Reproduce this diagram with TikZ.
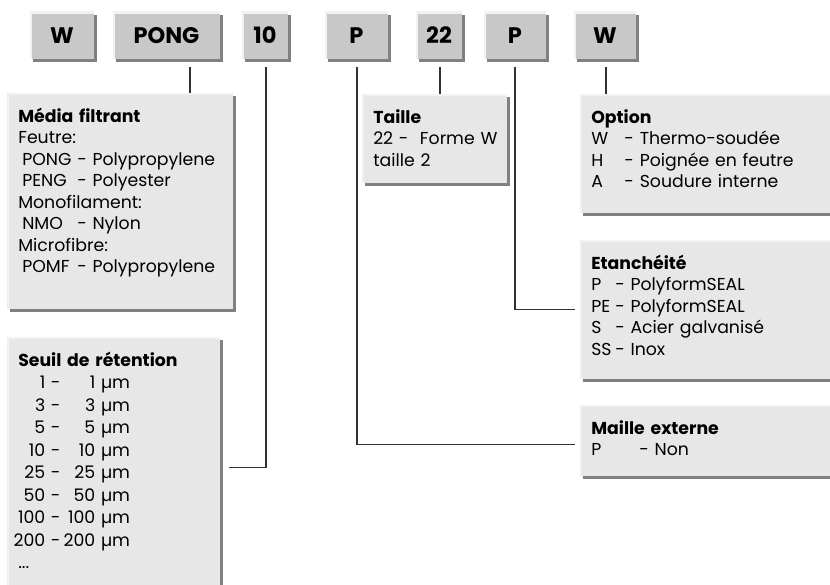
\documentclass[tikz,border=0pt]{standalone}
\usepackage{fontspec}
\setmainfont{Poppins}
\usetikzlibrary{positioning, calc, shadows}

\definecolor{keygray}{RGB}{200,200,200}
\definecolor{panelgray}{RGB}{231,231,231}
\definecolor{edgegray}{RGB}{128,128,128}
\definecolor{hilite}{RGB}{242,242,242}
\definecolor{wiregray}{RGB}{50,50,50}

\newcommand{\coderow}[3]{\makebox[#1][l]{#2}- #3}
\newcommand{\seuilrow}[2]{\makebox[0.675cm][r]{#1}\makebox[0.45cm][c]{\,-}\makebox[0.8cm][r]{#2}~µm}

\tikzset{
  boxshadow/.style={drop shadow={shadow xshift=0.075cm, shadow yshift=-0.075cm, fill=edgegray, opacity=1}},
  keybox/.style={boxshadow, fill=keygray, minimum height=1.175cm, inner sep=0pt,
    font=\fontsize{16}{19}\selectfont\bfseries,
    path picture={\draw[hilite, line width=0.1cm] (path picture bounding box.south west) |- (path picture bounding box.north east);}},
  infobox/.style={boxshadow, anchor=north west, fill=panelgray, align=left, inner xsep=0.275cm, inner ysep=0pt,
    text height=0.72cm, font=\fontsize{12.3}{15.3}\selectfont,
    path picture={\draw[hilite, line width=0.08cm] (path picture bounding box.south west) |- (path picture bounding box.north east);}},
  link/.style={draw=wiregray, line width=0.75pt}
}

\begin{document}
\begin{tikzpicture}[x=0.025cm, y=-0.025cm]
  \useasboundingbox (0,0) rectangle (830,585);

  % Code letters
  \node[keybox, minimum width=1.6cm] (w1) at (62,35.5) {W};
  \node[keybox, minimum width=2.675cm] (pong) at (166.5,35.5) {PONG};
  \node[keybox, minimum width=1.15cm] (ten) at (265,35.5) {10};
  \node[keybox, minimum width=1.575cm] (p1) at (356.5,35.5) {P};
  \node[keybox, minimum width=1.15cm] (tt) at (439,35.5) {22};
  \node[keybox, minimum width=1.55cm] (p2) at (515,35.5) {P};
  \node[keybox, minimum width=1.55cm] (w2) at (605,35.5) {W};

  % Description boxes
  \node[infobox, text width=5.1cm, text depth=4.675cm] (media) at (7,93) {
    \textbf{Média filtrant}\\
    Feutre:\\
    \coderow{1.475cm}{\hspace{0.1cm}PONG}{Polypropylene}\\
    \coderow{1.475cm}{\hspace{0.1cm}PENG}{Polyester}\\
    Monofilament:\\
    \coderow{1.475cm}{\hspace{0.1cm}NMO}{Nylon}\\
    Microfibre:\\
    \coderow{1.475cm}{\hspace{0.1cm}POMF}{Polypropylene}
  };
  \node[infobox, text width=4.775cm, text depth=5.8cm, font=\fontsize{12.3}{16}\selectfont] (seuil) at (7,337) {
    \textbf{Seuil de rétention}\\
    \seuilrow{1}{1}\\
    \seuilrow{3}{3}\\
    \seuilrow{5}{5}\\
    \seuilrow{10}{10}\\
    \seuilrow{25}{25}\\
    \seuilrow{50}{50}\\
    \seuilrow{100}{100}\\
    \seuilrow{200}{200}\\
    ...
  };
  \node[infobox, text width=3.075cm, text depth=1.5cm] (taille) at (362,94) {
    \textbf{Taille}\\
    \mbox{22 -~~Forme W}\\
    taille 2
  };
  \node[infobox, text width=6.45cm, text depth=2.25cm] (option) at (580,94) {
    \textbf{Option}\\
    \coderow{0.83cm}{W}{Thermo-soudée}\\
    \coderow{0.83cm}{H}{Poignée en feutre}\\
    \coderow{0.83cm}{A}{Soudure interne}
  };
  \node[infobox, text width=6.45cm, text depth=2.75cm] (etanch) at (580,240) {
    \textbf{Etanchéité}\\
    \coderow{0.6cm}{P}{PolyformSEAL}\\
    \coderow{0.6cm}{PE}{PolyformSEAL}\\
    \coderow{0.6cm}{S}{Acier galvanisé}\\
    \coderow{0.6cm}{SS}{Inox}
  };
  \node[infobox, text width=6.45cm, text depth=1.05cm] (maille) at (580,405) {
    \textbf{Maille externe}\\
    \coderow{1.2cm}{P}{Non}
  };

  % Connectors
  \coordinate (pongdrop) at ($(pong.south)+(23.5,8)$);
  \coordinate (tendrop) at ($(ten.south)+(1,8)$);
  \coordinate (p1drop) at ($(p1.south)+(0.5,8)$);
  \coordinate (ttdrop) at ($(tt.south)+(1,8)$);
  \coordinate (p2drop) at ($(p2.south)+(0,8)$);
  \coordinate (w2drop) at ($(w2.south)+(1,8)$);
  \draw[link] (pongdrop) -- (pongdrop |- media.north);
  \draw[link] (tendrop) |- ($(seuil.east)+(8,0)$);
  \draw[link] (p1drop) |- ($(maille.west)+(-5,4)$);
  \draw[link] (ttdrop) -- (ttdrop |- taille.north);
  \draw[link] (p2drop) |- ($(etanch.west)+(-5,0)$);
  \draw[link] (w2drop) -- (w2drop |- option.north);
\end{tikzpicture}
\end{document}
